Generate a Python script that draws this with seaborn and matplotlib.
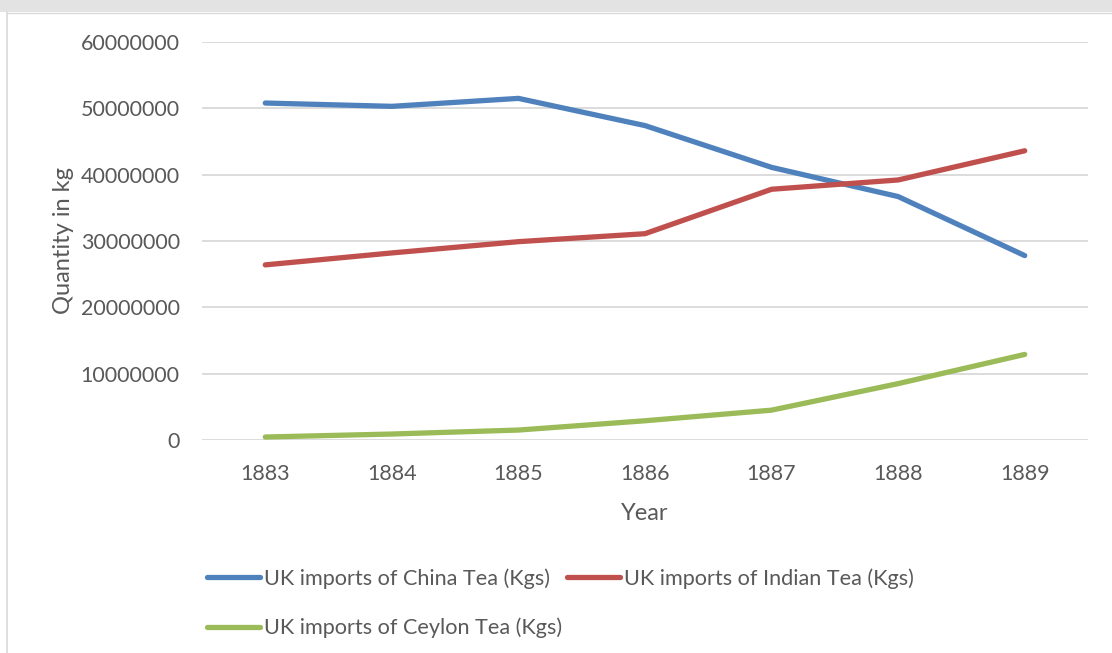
import matplotlib
matplotlib.use("Agg")
import matplotlib.pyplot as plt
import seaborn as sns
import pandas as pd
from matplotlib.patches import Rectangle
from matplotlib.lines import Line2D

years = [1883, 1884, 1885, 1886, 1887, 1888, 1889]
china = [50800000, 50300000, 51500000, 47400000, 41100000, 36700000, 27800000]
indian = [26400000, 28200000, 29900000, 31100000, 37800000, 39200000, 43600000]
ceylon = [450000, 900000, 1500000, 2900000, 4500000, 8500000, 12900000]
series_names = ["UK imports of China Tea (Kgs)", "UK imports of Indian Tea (Kgs)",
                "UK imports of Ceylon Tea (Kgs)"]
colors = ["#4f81bd", "#c0504d", "#9bbb59"]
yticks = [0, 10000000, 20000000, 30000000, 40000000, 50000000, 60000000]

rows = []
for name, vals in zip(series_names, [china, indian, ceylon]):
    for i, (yr, v) in enumerate(zip(years, vals)):
        rows.append({"idx": i, "Year": str(yr), "value": v, "series": name})
df = pd.DataFrame(rows)

sns.set_theme(style="white")
plt.rcParams['font.family'] = ['Lato', 'DejaVu Sans']
txt = "#595959"

W, H = 1112, 653
fig = plt.figure(figsize=(W / 100, H / 100), dpi=100)
fig.patch.set_facecolor("white")

# top gray band & frame
fig.add_artist(Rectangle((0, 1 - 12 / H), 1, 12 / H, transform=fig.transFigure,
                         facecolor="#e3e3e3", edgecolor="none", zorder=0))
fig.add_artist(Line2D([7 / W, 7 / W], [0, 1 - 12 / H], transform=fig.transFigure,
                      color="#d9d9d9", lw=1.2))
fig.add_artist(Line2D([7 / W, 1], [1 - 13 / H, 1 - 13 / H], transform=fig.transFigure,
                      color="#d9d9d9", lw=1.0))

ax = fig.add_axes([202 / W, 1 - 440 / H, (1088 - 202) / W, (440 - 42) / H])
sns.lineplot(data=df, x="idx", y="value", hue="series", palette=colors,
             linewidth=3.8, ax=ax, legend=False, solid_capstyle="round")

ax.set_xlim(-0.5, 6.5)
ax.set_ylim(0, 60000000)
ax.set_yticks(yticks)
ax.set_yticklabels([str(v) for v in yticks])
ax.set_xticks(range(len(years)))
ax.set_xticklabels([str(y) for y in years])
ax.grid(axis="y", color="#d9d9d9", linewidth=1.3)
ax.set_axisbelow(True)
for s in ax.spines.values():
    s.set_visible(False)
ax.tick_params(axis="both", length=0, labelsize=15.5, colors=txt)
ax.tick_params(axis="y", pad=16)
ax.tick_params(axis="x", pad=17)
ax.set_xlabel("Year", fontsize=17, color=txt, labelpad=14)
ax.set_ylabel("Quantity in kg", fontsize=17, color=txt, labelpad=5)
for line in ax.get_lines():
    line.set_clip_on(False)

handles = [Line2D([], [], color=c, lw=3.8, solid_capstyle="round") for c in colors]
order = [0, 2, 1]
leg = fig.legend([handles[i] for i in order], [series_names[i] for i in order],
                 ncol=2, loc="upper left", bbox_to_anchor=(207 / W, 1 - 568 / H),
                 frameon=False, fontsize=15.6, handlelength=2.45, handletextpad=0.2,
                 columnspacing=0.2, labelspacing=1.35, borderpad=0, borderaxespad=0)
for t in leg.get_texts():
    t.set_color(txt)

fig.savefig("out.png", dpi=100)
